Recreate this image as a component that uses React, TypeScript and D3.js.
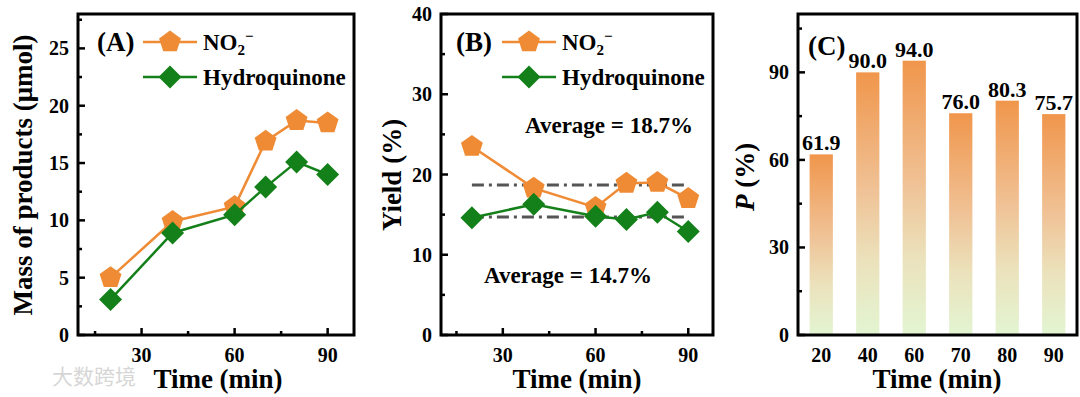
import React from 'react';
import * as d3 from 'd3';

const times = [20, 40, 60, 70, 80, 90];
const massNO2 = [5.0, 9.9, 11.2, 16.9, 18.7, 18.5];
const massHQ = [3.1, 8.9, 10.5, 12.9, 15.1, 14.0];
const yieldNO2 = [23.5, 18.3, 15.9, 18.9, 19.0, 17.0];
const yieldHQ = [14.6, 16.3, 14.8, 14.4, 15.3, 12.9];
const averages = [18.7, 14.7];
const pValues = [61.9, 90.0, 94.0, 76.0, 80.3, 75.7];
const timeLabels = ['20', '40', '60', '70', '80', '90'];

const ORANGE = '#EF8B35';
const GREEN = '#14801A';
const FONT = '"Liberation Serif", "Times New Roman", serif';

const pentagon = (cx: number, cy: number, r: number) => {
  const pts = d3.range(5).map(i => {
    const a = -Math.PI / 2 + (i * 2 * Math.PI) / 5;
    return [cx + r * Math.cos(a), cy + r * Math.sin(a)];
  });
  return 'M' + pts.map(p => p.join(',')).join('L') + 'Z';
};
const diamond = (cx: number, cy: number, r: number) =>
  `M${cx},${cy - r}L${cx + r},${cy}L${cx},${cy + r}L${cx - r},${cy}Z`;

type Tick = { v: number; major: boolean };

function Frame({ x0, x1, y0, y1 }: { x0: number; x1: number; y0: number; y1: number }) {
  return <rect x={x0} y={y0} width={x1 - x0} height={y1 - y0} fill="none" stroke="#000" strokeWidth={3} />;
}

function YAxis({ y, x0, ticks, fmt }: { y: d3.ScaleLinear<number, number>; x0: number; ticks: Tick[]; fmt?: (v: number) => string }) {
  return (
    <g>
      {ticks.map((t, i) => (
        <g key={i}>
          <line x1={x0} x2={x0 + (t.major ? 7 : 4)} y1={y(t.v)} y2={y(t.v)} stroke="#000" strokeWidth={2.5} />
          {t.major && (
            <text x={x0 - 9} y={y(t.v)} dy="0.35em" textAnchor="end" fontSize={20} fontWeight="bold" fontFamily={FONT}>
              {fmt ? fmt(t.v) : t.v}
            </text>
          )}
        </g>
      ))}
    </g>
  );
}

function XAxis({ x, y0, ticks }: { x: d3.ScaleLinear<number, number>; y0: number; ticks: Tick[] }) {
  return (
    <g>
      {ticks.map((t, i) => (
        <g key={i}>
          <line x1={x(t.v)} x2={x(t.v)} y1={y0} y2={y0 - (t.major ? 7 : 4)} stroke="#000" strokeWidth={2.5} />
          {t.major && (
            <text x={x(t.v)} y={362} textAnchor="middle" fontSize={20} fontWeight="bold" fontFamily={FONT}>
              {t.v}
            </text>
          )}
        </g>
      ))}
    </g>
  );
}

function Series({ x, y, vals, kind }: { x: d3.ScaleLinear<number, number>; y: d3.ScaleLinear<number, number>; vals: number[]; kind: 'p' | 'd' }) {
  const color = kind === 'p' ? ORANGE : GREEN;
  const line = d3.line<number>().x((_, i) => x(times[i])).y(v => y(v));
  return (
    <g>
      <path d={line(vals) || ''} fill="none" stroke={color} strokeWidth={2.5} />
      {vals.map((v, i) => (
        <path key={i} d={kind === 'p' ? pentagon(x(times[i]), y(v), 11.5) : diamond(x(times[i]), y(v), 11.5)} fill={color} />
      ))}
    </g>
  );
}

function Legend({ lx, label }: { lx: number; label: string }) {
  return (
    <g fontFamily={FONT} fontWeight="bold">
      <text x={lx - 46} y={51} fontSize={27}>{label}</text>
      <line x1={lx} x2={lx + 54} y1={42} y2={42} stroke={ORANGE} strokeWidth={2.5} />
      <path d={pentagon(lx + 27, 42, 11.5)} fill={ORANGE} />
      <text x={lx + 60} y={50} fontSize={23}>
        NO<tspan fontSize={15} dy={5}>2</tspan><tspan fontSize={15} dy={-14}>−</tspan>
      </text>
      <line x1={lx} x2={lx + 54} y1={77} y2={77} stroke={GREEN} strokeWidth={2.5} />
      <path d={diamond(lx + 27, 77, 11.5)} fill={GREEN} />
      <text x={lx + 60} y={85} fontSize={23}>Hydroquinone</text>
    </g>
  );
}

const xTicks: Tick[] = [15, 30, 45, 60, 75, 90].map(v => ({ v, major: v % 30 === 0 }));

export default function App() {
  // Panel A
  const xA = d3.scaleLinear().domain([9.5, 98.5]).range([78, 354]);
  const yA = d3.scaleLinear().domain([0, 28]).range([335, 14]);
  const yATicks: Tick[] = d3.range(0, 28, 2.5).map(v => ({ v, major: v % 5 === 0 }));

  // Panel B
  const xB = d3.scaleLinear().domain([10, 98]).range([441, 713]);
  const yB = d3.scaleLinear().domain([0, 40]).range([335, 14]);
  const yBTicks: Tick[] = d3.range(0, 41, 5).map(v => ({ v, major: v % 10 === 0 }));
  const dashLine = d3.line<number>().x(d => xB(d)).y(0);

  // Panel C
  const xC = d3.scaleBand<string>().domain(timeLabels).range([798, 1077]).paddingInner(0.5).paddingOuter(0.25);
  const yC = d3.scaleLinear().domain([0, 110]).range([335, 14]);
  const yCTicks: Tick[] = d3.range(0, 110, 15).map(v => ({ v, major: v % 30 === 0 }));

  return (
    <svg width={1080} height={397} style={{ position: 'absolute', left: 0, top: 0, background: '#fff' }}>
      <defs>
        <linearGradient id="barGrad" x1="0" y1="0" x2="0" y2="1">
          <stop offset="0" stopColor="#F0964C" />
          <stop offset="0.45" stopColor="#F0C296" />
          <stop offset="0.72" stopColor="#EBE2BC" />
          <stop offset="1" stopColor="#E3F5D2" />
        </linearGradient>
      </defs>

      {/* (A) */}
      <Series x={xA} y={yA} vals={massNO2} kind="p" />
      <Series x={xA} y={yA} vals={massHQ} kind="d" />
      <Frame x0={78} x1={354} y0={14} y1={335} />
      <YAxis y={yA} x0={78} ticks={yATicks} />
      <XAxis x={xA} y0={335} ticks={xTicks} />
      <Legend lx={143} label="(A)" />
      <text x={218} y={388} textAnchor="middle" fontSize={27} fontWeight="bold" fontFamily={FONT}>Time (min)</text>
      <text transform="translate(23,175) rotate(-90)" dy="0.35em" textAnchor="middle" fontSize={27} fontWeight="bold" fontFamily={FONT}>
        Mass of products (μmol)
      </text>

      {/* (B) */}
      {averages.map((a, i) => (
        <path key={i} d={dashLine([20, 90]) || ''} transform={`translate(0,${yB(a)})`} stroke="#555" strokeWidth={3} strokeDasharray="12,5,3,5" fill="none" />
      ))}
      <Series x={xB} y={yB} vals={yieldNO2} kind="p" />
      <Series x={xB} y={yB} vals={yieldHQ} kind="d" />
      <Frame x0={441} x1={713} y0={14} y1={335} />
      <YAxis y={yB} x0={441} ticks={yBTicks} />
      <XAxis x={xB} y0={335} ticks={xTicks} />
      <Legend lx={502} label="(B)" />
      <g fontFamily={FONT} fontWeight="bold" fontSize={23}>
        <text x={609} y={133} textAnchor="middle">Average = {averages[0]}%</text>
        <text x={568} y={283} textAnchor="middle">Average = {averages[1]}%</text>
      </g>
      <text x={577} y={388} textAnchor="middle" fontSize={27} fontWeight="bold" fontFamily={FONT}>Time (min)</text>
      <text transform="translate(392,175) rotate(-90)" dy="0.35em" textAnchor="middle" fontSize={27} fontWeight="bold" fontFamily={FONT}>
        Yield (%)
      </text>

      {/* (C) */}
      {pValues.map((v, i) => (
        <g key={i}>
          <rect x={xC(timeLabels[i])} y={yC(v)} width={xC.bandwidth()} height={yC(0) - yC(v)} fill="url(#barGrad)" />
          <text x={(xC(timeLabels[i]) || 0) + xC.bandwidth() / 2} y={yC(v) - 4} textAnchor="middle" fontSize={22} fontWeight="bold" fontFamily={FONT}>
            {v.toFixed(1)}
          </text>
        </g>
      ))}
      <Frame x0={798} x1={1077} y0={14} y1={335} />
      <YAxis y={yC} x0={798} ticks={yCTicks} />
      {timeLabels.map(t => (
        <text key={t} x={(xC(t) || 0) + xC.bandwidth() / 2} y={362} textAnchor="middle" fontSize={20} fontWeight="bold" fontFamily={FONT}>{t}</text>
      ))}
      <text x={808} y={55} fontSize={27} fontWeight="bold" fontFamily={FONT}>(C)</text>
      <text x={937} y={388} textAnchor="middle" fontSize={27} fontWeight="bold" fontFamily={FONT}>Time (min)</text>
      <text transform="translate(745,177) rotate(-90)" dy="0.35em" textAnchor="middle" fontSize={27} fontWeight="bold" fontFamily={FONT}>
        <tspan fontStyle="italic">P</tspan> (%)
      </text>

      {/* watermark */}
      <text x={52} y={384} fontSize={21} fill="#d6d6d6" fontFamily='"Noto Sans CJK SC", sans-serif'>大数跨境</text>
    </svg>
  );
}
